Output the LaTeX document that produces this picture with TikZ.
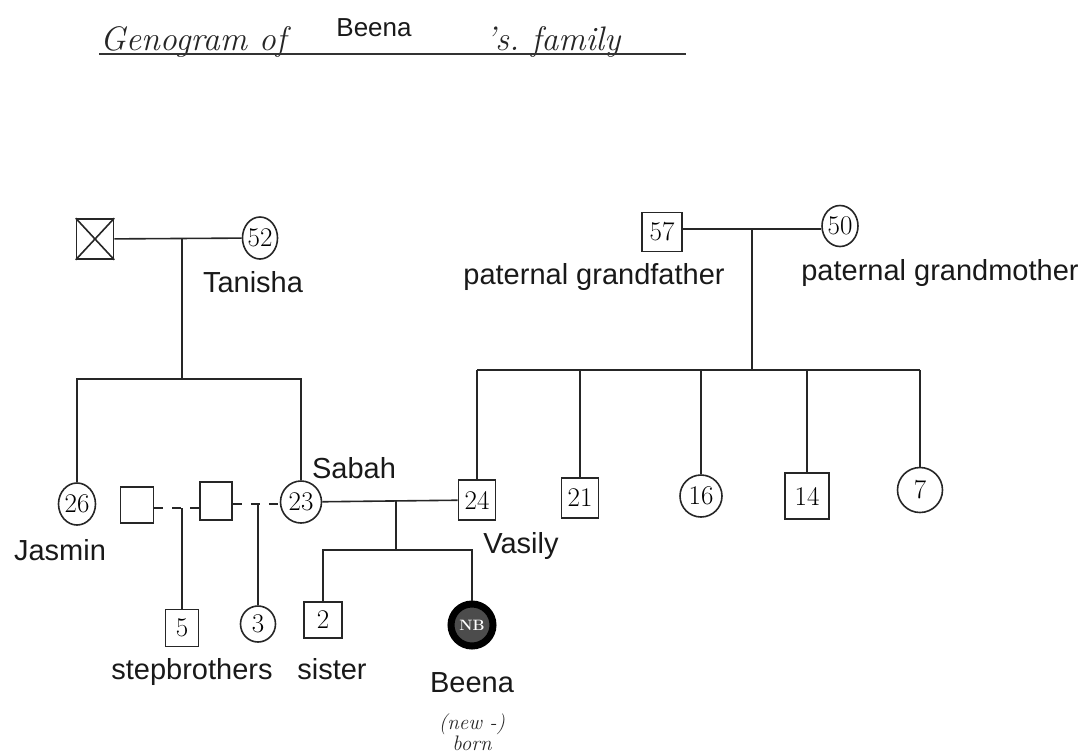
\documentclass[tikz,border=0pt]{standalone}
\usepackage{fontspec}
\setsansfont{Liberation Sans}
\usetikzlibrary{shapes.geometric}
\begin{document}
\begin{tikzpicture}[x=1pt,y=-1pt,
  ln/.style={line width=1.6pt, draw=black!85},
  dsh/.style={ln, dash pattern=on 9pt off 9pt},
  person/.style={ln, inner sep=0pt, font=\fontsize{27}{27}\selectfont},
  male/.style={person, rectangle, minimum width=37pt, minimum height=40pt},
  female/.style={person, ellipse, minimum width=37pt, minimum height=42pt},
  lbl/.style={font=\sffamily\fontsize{29}{29}\selectfont, inner sep=0pt, anchor=base, text=black!90},
  hand/.style={font=\itshape\fontsize{34}{34}\selectfont, inner sep=0pt, anchor=base west, text=black!85},
  small/.style={font=\itshape\fontsize{21}{21}\selectfont, inner sep=0pt, align=center, text=black!85}
]
\useasboundingbox (0,0) rectangle (1089,753);

% ---- title ----
\node[hand] (t1) at (100,50) {Genogram of};
\node[lbl, font=\sffamily\fontsize{26}{26}\selectfont, anchor=base] (t2) at (374,36) {Beena};
\node[hand] (t3) at (485,50) {'s.\ family};
\coordinate (u1) at (99,54);
\coordinate (u2) at (686,54);
\draw[line width=1.3pt, black!80] (u1) -- (u2);

% ---- maternal grandparents ----
\node[male] (gf1) at (95,239) {};
\draw[ln] (gf1.north west) -- (gf1.south east) (gf1.north east) -- (gf1.south west);
\node[female, minimum width=34pt] (tan) at (260,238) {52};
\node[lbl] (tanl) at (253,292) {Tanisha};
\coordinate (m1) at (182,239);
\coordinate (b1) at (182,379);
\draw[ln] (gf1) -- (tan);
\draw[ln] (m1) -- (b1);

% ---- generation 2, maternal side ----
\node[female] (jas) at (77,504) {26};
\node[lbl] (jasl) at (60,560) {Jasmin};
\node[female, minimum width=41pt] (sab) at (301,502) {23};
\node[lbl] (sabl) at (354,478) {Sabah};
\draw[ln] (jas) -- (jas |- b1) -- (sab |- b1) -- (sab);

% ---- step family ----
\node[male, minimum width=33pt, minimum height=36pt] (sq1) at (137,505) {};
\node[male, minimum width=32pt, minimum height=38pt] (sq2) at (216,501) {};
\coordinate (d1) at (182,508);
\coordinate (d2) at (258,504);
\draw[dsh] (sq1.east |- d1) -- (sq2.west |- d1);
\draw[dsh] (sq2.east |- d2) -- (sab.west |- d2);
\node[male, minimum width=33pt, minimum height=37pt] (s5) at (182,628) {5};
\node[female, minimum width=35pt, minimum height=36pt] (s3) at (258,624) {3};
\draw[ln] (d1) -- (s5);
\draw[ln] (d2) -- (s3);
\node[lbl] (stepl) at (192,679) {stepbrothers};

% ---- Sabah & Vasily ----
\node[male] (vas) at (477,500) {24};
\node[lbl] (vasl) at (521,553) {Vasily};
\draw[ln] (sab) -- (vas);
\coordinate (m2) at (396,501);
\coordinate (c2) at (396,550);
\draw[ln] (m2) -- (c2);
\node[male, minimum width=38pt, minimum height=36pt] (sis) at (323,620) {2};
\node[lbl] (sisl) at (332,679) {sister};
\node[circle, draw=black, line width=7pt, fill=black!70, minimum size=42pt, inner sep=0pt,
      font=\bfseries\fontsize{15}{15}\selectfont, text=white] (bee) at (472,625) {NB};
\draw[ln] (sis) -- (sis |- c2) -- (bee |- c2) -- (bee);
\node[lbl] (beel) at (472,692) {Beena};
\node[small] (nb) at (472,732) {(new -)\\born};

% ---- paternal grandparents ----
\node[male, minimum width=40pt, minimum height=39pt] (pgf) at (662,232) {57};
\node[female, minimum width=36pt, minimum height=41pt] (pgm) at (840,226) {50};
\node[lbl] (pgfl) at (594,284) {paternal grandfather};
\node[lbl] (pgml) at (940,280) {paternal grandmother};
\coordinate (m3) at (752,229);
\coordinate (b3) at (752,370);
\draw[ln] (pgf.east |- m3) -- (pgm.west |- m3);
\draw[ln] (m3) -- (b3);

% ---- paternal children ----
\node[male] (u21) at (580,498) {21};
\node[female, minimum width=42pt] (c16) at (701,496) {16};
\node[male, minimum width=44pt, minimum height=46pt] (u14) at (807,496) {14};
\node[female, minimum width=45pt, minimum height=45pt] (c7) at (920,490) {7};
\draw[ln] (vas |- b3) -- (c7 |- b3);
\draw[ln] (vas |- b3) -- (vas);
\draw[ln] (u21 |- b3) -- (u21);
\draw[ln] (c16 |- b3) -- (c16);
\draw[ln] (u14 |- b3) -- (u14);
\draw[ln] (c7 |- b3) -- (c7);
\end{tikzpicture}
\end{document}
